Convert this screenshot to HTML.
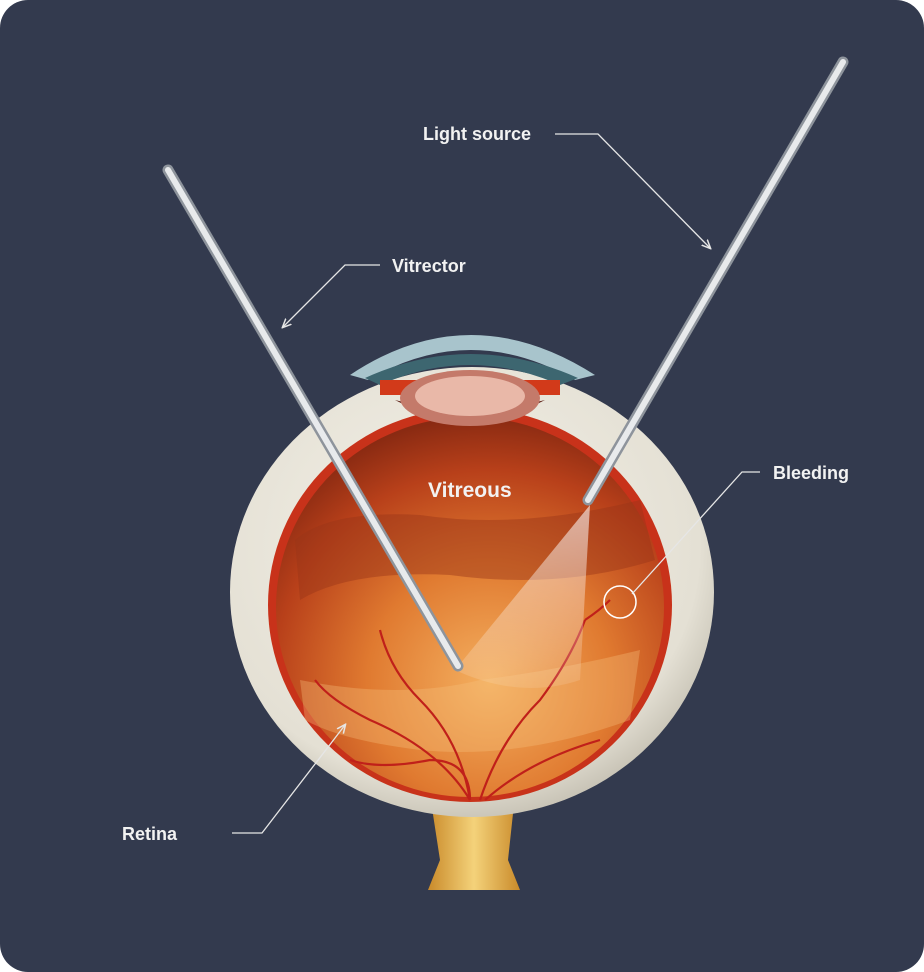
<!DOCTYPE html>
<html><head><meta charset="utf-8"><style>
html,body{margin:0;padding:0;background:#fff;}
svg{display:block}
text{font-family:"Liberation Sans",sans-serif;font-weight:bold;fill:#f2f2f2}
</style></head><body>
<svg width="924" height="972" viewBox="0 0 924 972" xmlns="http://www.w3.org/2000/svg">
<defs>
<radialGradient id="inner" cx="0.55" cy="0.7" r="0.7">
<stop offset="0" stop-color="#f4b060"/>
<stop offset="0.45" stop-color="#e07a30"/>
<stop offset="0.8" stop-color="#b8401a"/>
<stop offset="1" stop-color="#8a2a12"/>
</radialGradient>
<radialGradient id="scl" cx="0.45" cy="0.4" r="0.65">
<stop offset="0" stop-color="#f4f1e8"/>
<stop offset="0.8" stop-color="#e4e0d4"/>
<stop offset="1" stop-color="#bdb8aa"/>
</radialGradient>
<linearGradient id="nerve" x1="0" x2="1">
<stop offset="0" stop-color="#c98a2a"/><stop offset="0.5" stop-color="#f4d27a"/><stop offset="1" stop-color="#c98a2a"/>
</linearGradient>
<linearGradient id="beam" x1="0" y1="0" x2="0" y2="1">
<stop offset="0" stop-color="#fff" stop-opacity="0.85"/><stop offset="1" stop-color="#fff" stop-opacity="0.15"/>
</linearGradient>
<marker id="ar" markerWidth="10" markerHeight="10" refX="8" refY="5" orient="auto" markerUnits="userSpaceOnUse">
<path d="M0 1 L9 5 L0 9" fill="none" stroke="#e6e6e6" stroke-width="1.5"/>
</marker>
</defs>
<rect x="0" y="0" width="924" height="972" rx="28" fill="#333a4e"/>
<path d="M430 795 L515 795 L508 860 L520 890 L428 890 L440 860 Z" fill="url(#nerve)"/>
<ellipse cx="472" cy="592" rx="242" ry="225" fill="url(#scl)"/>
<path d="M350 375 Q470 295 595 375 L575 380 Q470 320 368 380 Z" fill="#a8c4cc"/>
<path d="M365 378 Q470 330 578 378 L560 385 Q470 345 380 385 Z" fill="#3d6670"/>
<ellipse cx="470" cy="605" rx="202" ry="197" fill="#c8321a"/>
<ellipse cx="470" cy="607" rx="194" ry="190" fill="url(#inner)"/>
<path d="M295 540 Q330 510 420 515 Q520 530 640 500 L655 560 Q560 590 450 575 Q350 570 300 600 Z" fill="#9a3618" opacity="0.45"/>
<path d="M300 680 Q400 700 480 680 Q560 670 640 650 L630 720 Q520 760 420 750 Q340 740 305 720 Z" fill="#f5c07a" opacity="0.35"/>
<path d="M380 380 L560 380 L560 395 L380 395 Z" fill="#d23a1a"/>
<path d="M395 400 Q470 440 545 400 Q470 420 395 400 Z" fill="#5a1a10"/>
<ellipse cx="470" cy="398" rx="70" ry="28" fill="#c47a6a"/>
<ellipse cx="470" cy="396" rx="55" ry="20" fill="#e9b8a8"/>
<g stroke="#c0201a" stroke-width="2.2" fill="none">
<path d="M470 800 Q460 740 420 700 Q390 670 380 630"/>
<path d="M470 800 Q440 750 370 720 Q330 700 315 680"/>
<path d="M480 800 Q500 740 540 700 Q570 660 585 620"/>
<path d="M485 800 Q530 760 600 740"/>
<path d="M470 800 Q470 760 430 760 Q380 770 350 760"/>
<path d="M585 620 Q600 610 610 600"/>
</g>
<circle cx="620" cy="602" r="16" fill="none" stroke="#fff" stroke-width="1.5"/>
<path d="M590 505 L455 670 Q520 700 580 680 Z" fill="url(#beam)" opacity="0.7"/>
<g stroke-linecap="round">
<line x1="168" y1="170" x2="458" y2="666" stroke="#8e949c" stroke-width="11"/>
<line x1="168" y1="170" x2="458" y2="666" stroke="#e8eaec" stroke-width="6"/>
<line x1="843" y1="62" x2="588" y2="500" stroke="#8e949c" stroke-width="11"/>
<line x1="843" y1="62" x2="588" y2="500" stroke="#e8eaec" stroke-width="6"/>
</g>
<g stroke="#e6e6e6" stroke-width="1.3" fill="none">
<path d="M555 134 L598 134 L710 248" marker-end="url(#ar)"/>
<path d="M380 265 L345 265 L283 327" marker-end="url(#ar)"/>
<path d="M760 472 L742 472 L632 594"/>
<path d="M232 833 L262 833 L345 725" marker-end="url(#ar)"/>
</g>
<text x="423" y="140" font-size="18">Light source</text>
<text x="392" y="272" font-size="18">Vitrector</text>
<text x="773" y="479" font-size="18">Bleeding</text>
<text x="122" y="840" font-size="18">Retina</text>
<text x="428" y="497" font-size="21">Vitreous</text>
</svg>
</body></html>
